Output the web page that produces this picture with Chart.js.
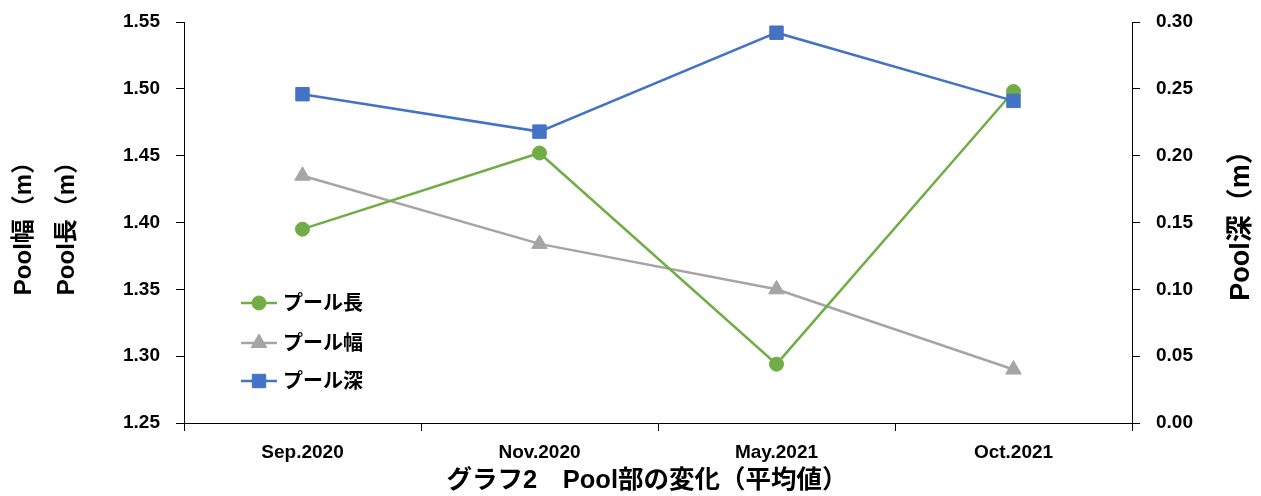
<!DOCTYPE html>
<html>
<head>
<meta charset="utf-8">
<script src="https://cdn.jsdelivr.net/npm/chart.js@4.4.1/dist/chart.umd.min.js"></script>
<style>
  html, body { margin: 0; padding: 0; background: #ffffff; }
  #wrap { width: 1261px; height: 496px; position: relative; }
</style>
</head>
<body>
<div id="wrap"><canvas id="c" width="1261" height="496"></canvas></div>
<script>
// ---- data ----
const categories = ['Sep.2020', 'Nov.2020', 'May.2021', 'Oct.2021'];
const poolLength = [1.395, 1.452, 1.294, 1.498];   // プール長 (left axis)
const poolWidth  = [1.435, 1.384, 1.350, 1.290];   // プール幅 (left axis)
const poolDepth  = [0.246, 0.218, 0.292, 0.241];   // プール深 (right axis)
const leftTicks  = [1.25, 1.30, 1.35, 1.40, 1.45, 1.50, 1.55];
const rightTicks = [0.00, 0.05, 0.10, 0.15, 0.20, 0.25, 0.30];
const seriesNames = ['プール長', 'プール幅', 'プール深'];
const leftTitle  = ['Pool幅（m）', 'Pool長（m）'];
const rightTitle = 'Pool深（m）';
const xTitle     = 'グラフ2　Pool部の変化（平均値）';

const GREEN = '#70AD47', GRAY = '#A5A5A5', BLUE = '#4472C4';
const FAMILY = "'Liberation Sans', 'Noto Sans CJK JP', sans-serif";
const TICK_FONT = { family: FAMILY, size: 19, weight: 'bold' };

const customText = {
  id: 'customText',
  afterDraw(chart) {
    const ctx = chart.ctx;
    // right axis title (reads bottom to top)
    ctx.save();
    ctx.font = 'bold 27px ' + FAMILY;
    ctx.fillStyle = '#000';
    ctx.textAlign = 'center';
    ctx.textBaseline = 'middle';
    ctx.translate(1242, 219);
    ctx.rotate(-Math.PI / 2);
    ctx.fillText(rightTitle, 0, 0);
    ctx.restore();

    // x axis title
    ctx.save();
    ctx.font = 'bold 25.5px ' + FAMILY;
    ctx.fillStyle = '#000';
    ctx.textAlign = 'center';
    ctx.textBaseline = 'middle';
    ctx.fillText(xTitle, 647, 481);
    ctx.restore();

    // legend inside the plot area
    const ys = [303, 343, 381];
    chart.data.datasets.forEach((ds) => {
      const i = seriesNames.indexOf(ds.label);
      const y = ys[i];
      ctx.save();
      ctx.strokeStyle = ds.borderColor;
      ctx.lineWidth = ds.borderWidth;
      ctx.beginPath();
      ctx.moveTo(241, y);
      ctx.lineTo(277, y);
      ctx.stroke();
      ctx.fillStyle = ds.pointBackgroundColor;
      ctx.strokeStyle = ds.pointBorderColor;
      ctx.lineWidth = 1;
      Chart.helpers.drawPoint(ctx, { pointStyle: ds.pointStyle, radius: ds.pointRadius, rotation: 0, borderWidth: 1 }, 259, y);
      ctx.fillStyle = '#000';
      ctx.font = 'bold 20px ' + FAMILY;
      ctx.textAlign = 'left';
      ctx.textBaseline = 'middle';
      ctx.fillText(ds.label, 283, y + 1);
      ctx.restore();
    });
  }
};

function noVPad(scale) { scale.paddingTop = 0; scale.paddingBottom = 0; }

const cfg = {
  type: 'line',
  data: {
    labels: categories,
    datasets: [
      {
        label: seriesNames[0], data: poolLength, yAxisID: 'yL', order: 1,
        borderColor: GREEN, backgroundColor: GREEN, pointBackgroundColor: GREEN, pointBorderColor: GREEN,
        borderWidth: 2.5, pointStyle: 'circle', pointRadius: 7, pointBorderWidth: 1, tension: 0
      },
      {
        label: seriesNames[1], data: poolWidth, yAxisID: 'yL', order: 2,
        borderColor: GRAY, backgroundColor: GRAY, pointBackgroundColor: GRAY, pointBorderColor: GRAY,
        borderWidth: 2.5, pointStyle: 'triangle', pointRadius: 9, pointBorderWidth: 1, tension: 0
      },
      {
        label: seriesNames[2], data: poolDepth, yAxisID: 'yR', order: 0,
        borderColor: BLUE, backgroundColor: BLUE, pointBackgroundColor: BLUE, pointBorderColor: BLUE,
        borderWidth: 2.5, pointStyle: 'rect', pointRadius: 9.5, pointBorderWidth: 1, tension: 0
      }
    ]
  },
  options: {
    responsive: false,
    animation: false,
    layout: { padding: { top: 22, left: 0, right: 0, bottom: 0 } },
    plugins: { legend: { display: false }, tooltip: { enabled: false } },
    scales: {
      x: {
        type: 'category',
        offset: true,
        grid: { display: true, drawOnChartArea: false, drawTicks: true, tickLength: 8, offset: true, color: '#000', lineWidth: 1 },
        border: { display: true, color: '#000', width: 1 },
        ticks: { color: '#000', font: TICK_FONT, padding: 10, maxRotation: 0 },
        afterFit(scale) { scale.height = 73; scale.paddingLeft = 0; scale.paddingRight = 0; }
      },
      yL: {
        type: 'linear', position: 'left',
        min: 1.25, max: 1.55,
        grid: { display: true, drawOnChartArea: false, drawTicks: true, tickLength: 8, color: '#000', lineWidth: 1 },
        border: { display: true, color: '#000', width: 1 },
        ticks: { color: '#000', font: TICK_FONT, padding: 16, callback: (v) => Number(v).toFixed(2) },
        afterBuildTicks(scale) { scale.ticks = leftTicks.map(v => ({ value: v })); },
        title: {
          display: true, text: leftTitle, color: '#000',
          font: { family: FAMILY, size: 24, weight: 'bold', lineHeight: 1.79 },
          padding: { top: 2.5, bottom: 0 }
        },
        afterFit(scale) { scale.width = 184; noVPad(scale); }
      },
      yR: {
        type: 'linear', position: 'right',
        min: 0, max: 0.30,
        grid: { display: true, drawOnChartArea: false, drawTicks: true, tickLength: 8, color: '#000', lineWidth: 1 },
        border: { display: true, color: '#000', width: 1 },
        ticks: { color: '#000', font: TICK_FONT, padding: 16, callback: (v) => Number(v).toFixed(2) },
        afterBuildTicks(scale) { scale.ticks = rightTicks.map(v => ({ value: v })); },
        afterFit(scale) { scale.width = 129; noVPad(scale); }
      }
    }
  },
  plugins: [customText]
};

new Chart(document.getElementById('c'), cfg);
</script>
</body>
</html>
